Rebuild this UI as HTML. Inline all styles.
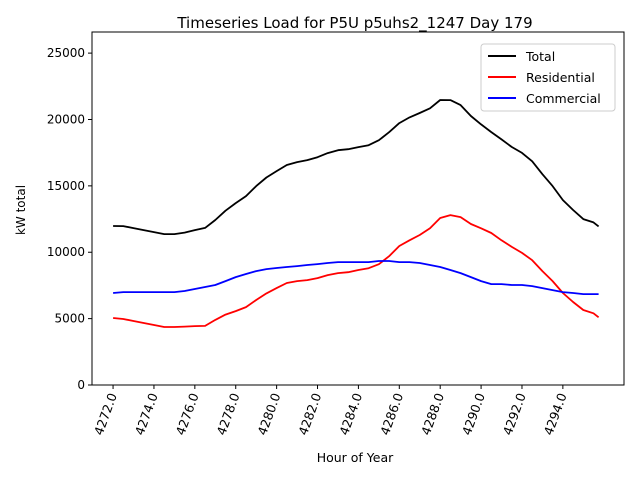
<!DOCTYPE html>
<html><head><meta charset="utf-8"><style>
body{margin:0;background:#fff;}
svg{display:block;font-family:"DejaVu Sans","Liberation Sans",sans-serif;}
</style></head><body>
<svg id="chart" width="640" height="480" viewBox="0 0 640 480" xmlns="http://www.w3.org/2000/svg">
<rect width="640" height="480" fill="#fff"/>
<text x="355" y="28" text-anchor="middle" font-size="15">Timeseries Load for P5U p5uhs2_1247  Day 179</text>
<g id="plot"></g>
<rect x="92" y="32" width="532" height="353" fill="none" stroke="#000" stroke-width="1"/>
<text transform="translate(25,210) rotate(-90)" text-anchor="middle" font-size="12">kW total</text>
<text x="355" y="462" text-anchor="middle" font-size="12.5">Hour of Year</text>
<g>
<rect x="481" y="44" width="134" height="67" rx="3" fill="#fff" fill-opacity="0.8" stroke="#ccc"/>
<line x1="488" y1="56" x2="516" y2="56" stroke="#000" stroke-width="2"/>
<text x="526" y="61" font-size="12.5">Total</text>
<line x1="488" y1="77" x2="516" y2="77" stroke="#f00" stroke-width="2"/>
<text x="526" y="82" font-size="12.5">Residential</text>
<line x1="488" y1="98" x2="516" y2="98" stroke="#00f" stroke-width="2"/>
<text x="526" y="103" font-size="12.5">Commercial</text>
</g>
</svg>
<script>
const hours = [4272,4272.5,4273,4273.5,4274,4274.5,4275,4275.5,4276,4276.5,4277,4277.5,4278,4278.5,4279,4279.5,4280,4280.5,4281,4281.5,4282,4282.5,4283,4283.5,4284,4284.5,4285,4285.5,4286,4286.5,4287,4287.5,4288,4288.5,4289,4289.5,4290,4290.5,4291,4291.5,4292,4292.5,4293,4293.5,4294,4294.5,4295,4295.5,4295.75];
const residential = [5050,4970,4820,4670,4520,4370,4370,4400,4440,4450,4900,5300,5570,5870,6400,6900,7300,7680,7830,7900,8050,8280,8430,8500,8660,8800,9100,9700,10470,10900,11300,11800,12580,12800,12650,12130,11800,11450,10900,10400,9950,9400,8580,7830,6930,6250,5650,5400,5100];
const commercial = [6930,7000,7000,7000,7000,7000,7000,7080,7230,7380,7530,7830,8130,8360,8580,8730,8810,8890,8960,9040,9110,9190,9260,9260,9260,9260,9340,9340,9260,9260,9190,9040,8890,8660,8430,8130,7830,7600,7600,7530,7530,7450,7300,7150,7000,6930,6850,6850,6850];
const total = [11980,11970,11820,11670,11520,11370,11370,11480,11670,11830,12430,13130,13700,14230,14980,15630,16110,16570,16790,16940,17160,17470,17690,17760,17920,18060,18440,19040,19730,20160,20490,20840,21470,21460,21080,20260,19630,19050,18500,17930,17480,16850,15880,14980,13930,13180,12500,12250,11950];
const xTicks = [4272,4274,4276,4278,4280,4282,4284,4286,4288,4290,4292,4294];
const yTicks = [0,5000,10000,15000,20000,25000];

const NS="http://www.w3.org/2000/svg";
const g=document.getElementById('plot');
const X0=92,X1=624,Y0=385,Y1=32;
const xMin=4270.97,xMax=4296.99,yMin=0,yMax=26590;
function xs(h){return X0+(h-xMin)/(xMax-xMin)*(X1-X0);}
function ys(v){return Y0-(v-yMin)/(yMax-yMin)*(Y0-Y1);}
function mk(t,a){const e=document.createElementNS(NS,t);for(const k in a)e.setAttribute(k,a[k]);g.appendChild(e);return e;}

yTicks.forEach(v=>{
  const l=mk('line',{x1:X0-4,x2:X0,y1:ys(v),y2:ys(v),stroke:'#000'});
  
  
  const t=mk('text',{x:X0-7,y:ys(v)+4,'text-anchor':'end','font-size':'12'});
  t.textContent=v;
  
  
});
xTicks.forEach(h=>{
  const x=xs(h);
  const l=mk('line',{x1:x,x2:x,y1:Y0,y2:Y0+4,stroke:'#000'});
  
  
  const t=mk('text',{transform:`translate(${x+4},${Y0+10}) rotate(-70)`,'text-anchor':'end','font-size':'12.5'});
  t.textContent=h.toFixed(1);
  
  
});
function line(vals,color,name){
  const d=vals.map((v,i)=>(i?'L':'M')+xs(hours[i]).toFixed(1)+','+ys(v).toFixed(1)).join('');
  const p=mk('path',{d:d,fill:'none',stroke:color,'stroke-width':'1.8','stroke-linejoin':'round'});
  
  
}
line(total,'#000','total-line');
line(residential,'#f00','residential-line');
line(commercial,'#00f','commercial-line');
</script>
</body></html>
